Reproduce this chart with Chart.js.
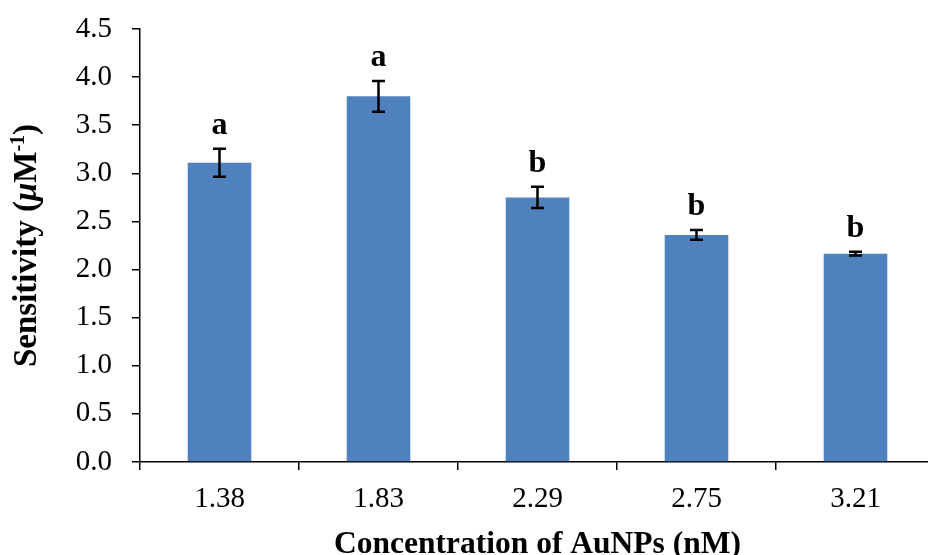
<!DOCTYPE html>
<html>
<head>
<meta charset="utf-8">
<script src="https://cdn.jsdelivr.net/npm/chart.js@4.4.1/dist/chart.umd.min.js"></script>
<style>
  html, body { margin: 0; padding: 0; background: #fff; overflow: hidden; }
  #clip { width: 928px; height: 555px; overflow: hidden; }
  #box { width: 940px; height: 566px; position: relative; }
</style>
</head>
<body>
<div id="clip"><div id="box"><canvas id="chart"></canvas></div></div>
<script>
// Données
const categories = ['1.38', '1.83', '2.29', '2.75', '3.21'];
const sensitivity = [3.11, 3.80, 2.75, 2.36, 2.165];
const errors = [0.145, 0.16, 0.11, 0.05, 0.02];
const groupLetters = ['a', 'a', 'b', 'b', 'b'];
const yTicks = [0, 0.5, 1.0, 1.5, 2.0, 2.5, 3.0, 3.5, 4.0, 4.5];

const SERIF = '"Liberation Serif", "Times New Roman", serif';

// Barres d'erreur + lettres de groupe
const errorBarPlugin = {
  id: 'errorBars',
  afterDatasetsDraw(chart) {
    const ctx = chart.ctx;
    const y = chart.scales.y;
    const meta = chart.getDatasetMeta(0);
    ctx.save();
    ctx.strokeStyle = '#000';
    ctx.fillStyle = '#000';
    ctx.lineWidth = 2.5;
    meta.data.forEach((bar, i) => {
      const cx = bar.x;
      const top = y.getPixelForValue(sensitivity[i] + errors[i]);
      const bot = y.getPixelForValue(sensitivity[i] - errors[i]);
      ctx.beginPath();
      ctx.moveTo(cx, top); ctx.lineTo(cx, bot);
      ctx.moveTo(cx - 6.5, top); ctx.lineTo(cx + 6.5, top);
      ctx.moveTo(cx - 6.5, bot); ctx.lineTo(cx + 6.5, bot);
      ctx.stroke();

      ctx.font = 'bold 32px ' + SERIF;
      ctx.textAlign = 'center';
      ctx.textBaseline = 'alphabetic';
      ctx.fillText(groupLetters[i], cx, top - 15);
    });
    ctx.restore();
  }
};

// Titre de l'axe Y avec µ en italique et exposant -1
const yTitlePlugin = {
  id: 'yTitle',
  afterDraw(chart) {
    const ctx = chart.ctx;
    const area = chart.chartArea;
    const parts = [
      { text: 'Sensitivity (', font: 'bold 33px ' + SERIF, dy: 0 },
      { text: 'μ', font: 'italic bold 33px ' + SERIF, dy: 0 },
      { text: 'M', font: 'bold 33px ' + SERIF, dy: 0 },
      { text: '-1', font: 'bold 20px ' + SERIF, dy: -12 },
      { text: ')', font: 'bold 33px ' + SERIF, dy: 0 }
    ];
    ctx.save();
    let total = 0;
    parts.forEach(p => { ctx.font = p.font; p.w = ctx.measureText(p.text).width; total += p.w; });
    ctx.translate(36, (area.top + area.bottom) / 2);
    ctx.rotate(-Math.PI / 2);
    ctx.fillStyle = '#000';
    ctx.textAlign = 'left';
    ctx.textBaseline = 'alphabetic';
    let xPos = -total / 2;
    parts.forEach(p => {
      ctx.font = p.font;
      ctx.fillText(p.text, xPos, p.dy);
      xPos += p.w;
    });
    ctx.restore();
  }
};

const ctx = document.getElementById('chart').getContext('2d');
new Chart(ctx, {
  type: 'bar',
  data: {
    labels: categories,
    datasets: [{
      data: sensitivity,
      backgroundColor: '#4F81BD',
      borderWidth: 0,
      barPercentage: 0.4,
      categoryPercentage: 1.0
    }]
  },
  options: {
    responsive: true,
    maintainAspectRatio: false,
    animation: false,
    layout: { padding: { top: 29, right: 5, left: 0, bottom: 0 } },
    plugins: {
      legend: { display: false },
      tooltip: { enabled: false }
    },
    scales: {
      x: {
        offset: true,
        grid: {
          display: true,
          offset: true,
          drawOnChartArea: false,
          drawTicks: true,
          tickLength: 8,
          color: '#000',
          lineWidth: 1.5
        },
        border: { display: true, color: '#000', width: 1.5 },
        ticks: {
          color: '#000',
          padding: 12,
          maxRotation: 0,
          font: { family: SERIF, size: 29 }
        },
        title: {
          display: true,
          text: 'Concentration of AuNPs (nM)',
          color: '#000',
          padding: { top: 0, bottom: 2 },
          font: { family: SERIF, size: 31.5, weight: 'bold' }
        },
        afterFit(scale) { scale.height = 104; }
      },
      y: {
        min: 0,
        max: 4.5,
        afterBuildTicks(scale) { scale.ticks = yTicks.map(v => ({ value: v })); },
        grid: {
          display: true,
          drawOnChartArea: false,
          drawTicks: true,
          tickLength: 8,
          color: '#000',
          lineWidth: 1.5
        },
        border: { display: true, color: '#000', width: 1.5 },
        ticks: {
          color: '#000',
          padding: 20,
          font: { family: SERIF, size: 29 },
          callback: v => Number(v).toFixed(1)
        },
        afterFit(scale) {
          scale.width = 140;
          scale.paddingTop = 0;
          scale.paddingBottom = 0;
        }
      }
    }
  },
  plugins: [errorBarPlugin, yTitlePlugin]
});
</script>
</body>
</html>
